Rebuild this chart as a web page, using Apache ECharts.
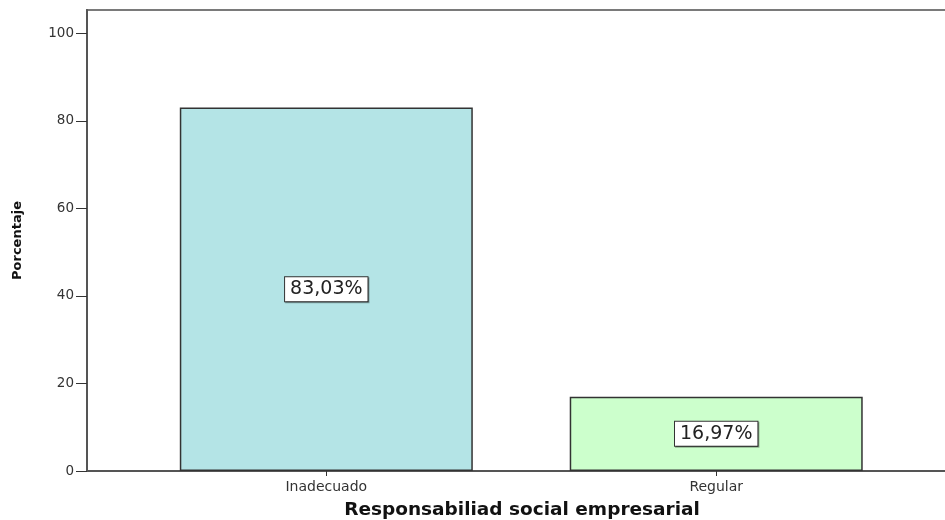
<!DOCTYPE html>
<html>
<head>
<meta charset="utf-8">
<script src="https://cdn.jsdelivr.net/npm/echarts@6/dist/echarts.min.js"></script>
<style>
  html, body { margin: 0; padding: 0; background: #fff; }
  #chart { width: 945px; height: 520px; }
</style>
</head>
<body>
<div id="chart"></div>
<script>
// Categories and percentages
const categories = ['Inadecuado', 'Regular'];
const percentages = [83.03, 16.97];
const barColors = ['#b4e4e6', '#ccffcc'];
const yTicks = [0, 20, 40, 60, 80, 100];
const xTitle = 'Responsabiliad social empresarial';
const yTitle = 'Porcentaje';

const FONT = "'DejaVu Sans', 'Liberation Sans', Arial, sans-serif";

// Bars sit at x = 1, 2 on a value axis so the plot frame can run past the last bar
const catPositions = categories.map((c, i) => i + 1);

const fmtPct = v => v.toFixed(2).replace('.', ',') + '%';

const chart = echarts.init(document.getElementById('chart'));
chart.setOption({
  animation: false,
  backgroundColor: '#ffffff',
  grid: {
    left: 87, right: -6, top: 10, bottom: 49,
    outerBoundsMode: 'none',
    containLabel: false,
    show: true, borderColor: '#7a7a7a', borderWidth: 2, backgroundColor: 'transparent'
  },
  xAxis: {
    type: 'value',
    min: 0.3863,
    max: 2.6021,
    splitLine: { show: false },
    axisLine: { show: true, lineStyle: { color: '#555', width: 2 } },
    axisTick: { show: true, customValues: catPositions, length: 5, lineStyle: { color: '#333', width: 1 } },
    axisLabel: {
      customValues: catPositions,
      formatter: v => categories[Math.round(v) - 1] || '',
      color: '#333', fontFamily: FONT, fontSize: 14, margin: 9
    },
    name: xTitle,
    nameLocation: 'middle',
    nameGap: 30,
    nameTextStyle: {
      color: '#111', fontFamily: FONT, fontWeight: 'bold', fontSize: 18.5,
      padding: [0, 0, 0, 6]
    }
  },
  yAxis: {
    type: 'value',
    min: 0,
    max: 105.3,
    splitLine: { show: false },
    axisLine: { show: true, lineStyle: { color: '#555', width: 2 } },
    axisTick: { show: true, customValues: yTicks, length: 11, lineStyle: { color: '#333', width: 1 } },
    axisLabel: {
      customValues: yTicks,
      color: '#333', fontFamily: FONT, fontSize: 13.5, margin: 13
    },
    name: yTitle,
    nameLocation: 'middle',
    nameRotate: 90,
    nameGap: 63,
    nameTextStyle: { color: '#111', fontFamily: FONT, fontWeight: 'bold', fontSize: 13 }
  },
  series: [{
    type: 'bar',
    barWidth: 293,
    data: percentages.map((v, i) => ({
      value: [catPositions[i], v],
      itemStyle: { color: barColors[i] }
    })),
    itemStyle: { borderColor: '#333', borderWidth: 1.5 },
    label: {
      show: true,
      position: 'inside',
      formatter: p => fmtPct(p.value[1]),
      color: '#222',
      fontFamily: FONT,
      fontSize: 19,
      lineHeight: 18,
      backgroundColor: '#ffffff',
      borderColor: '#333',
      borderWidth: 1,
      padding: [3, 5, 3, 5],
      shadowColor: 'rgba(0,0,0,0.3)',
      shadowOffsetX: 1,
      shadowOffsetY: 1,
      shadowBlur: 0
    }
  }]
});
</script>
</body>
</html>
